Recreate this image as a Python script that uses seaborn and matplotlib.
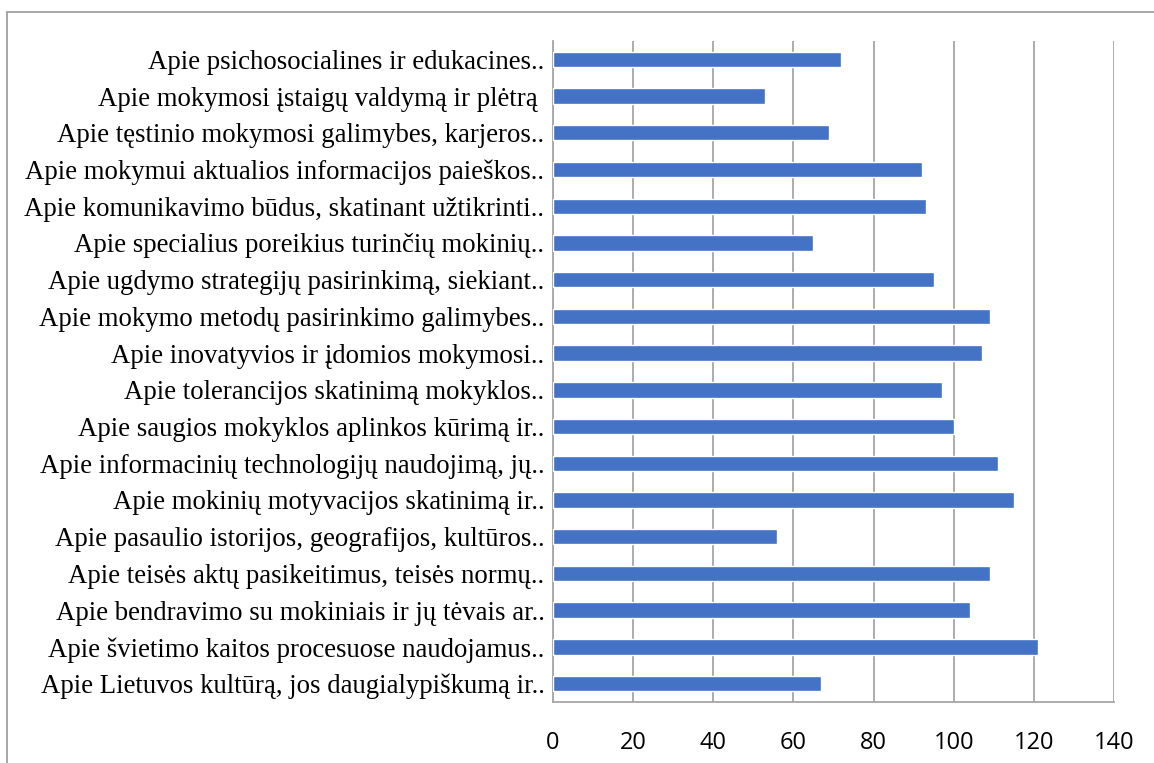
import matplotlib
matplotlib.use("Agg")
import matplotlib.pyplot as plt
import matplotlib.lines as mlines
import numpy as np
import pandas as pd
import seaborn as sns

topics = [
    "Apie psichosocialines ir edukacines..",
    "Apie mokymosi įstaigų valdymą ir plėtrą ",
    "Apie tęstinio mokymosi galimybes, karjeros..",
    "Apie mokymui aktualios informacijos paieškos..",
    "Apie komunikavimo būdus, skatinant užtikrinti..",
    "Apie specialius poreikius turinčių mokinių..",
    "Apie ugdymo strategijų pasirinkimą, siekiant..",
    "Apie mokymo metodų pasirinkimo galimybes..",
    "Apie inovatyvios ir įdomios mokymosi..",
    "Apie tolerancijos skatinimą mokyklos..",
    "Apie saugios mokyklos aplinkos kūrimą ir..",
    "Apie informacinių technologijų naudojimą, jų..",
    "Apie mokinių motyvacijos skatinimą ir..",
    "Apie pasaulio istorijos, geografijos, kultūros..",
    "Apie teisės aktų pasikeitimus, teisės normų..",
    "Apie bendravimo su mokiniais ir jų tėvais ar..",
    "Apie švietimo kaitos procesuose naudojamus..",
    "Apie Lietuvos kultūrą, jos daugialypiškumą ir..",
]
counts = [72, 53, 69, 92, 93, 65, 95, 109, 107, 97, 100, 111, 115, 56, 109, 104, 121, 67]

df = pd.DataFrame({"topic": topics, "count": counts})

sns.set_style("white")
fig = plt.figure(figsize=(11.54, 7.63), dpi=100)
ax = fig.add_axes([0.479, 0.08, 0.4865, 0.8663])

sns.barplot(data=df, x="count", y="topic", color="#4472C4", width=0.42,
            saturation=1, ax=ax, zorder=3)

ax.set_xlim(0, 140)
ax.set_xticks(np.arange(0, 141, 20))
ax.set_ylim(len(topics) - 0.5, -0.5)
ax.set_xlabel("")
ax.set_ylabel("")
ax.grid(axis="x", color="#A6A6A6", linewidth=1.3, zorder=0)
ax.grid(axis="y", visible=False)

for s in ["top", "right"]:
    ax.spines[s].set_visible(False)
for s in ["left", "bottom"]:
    ax.spines[s].set_color("#A6A6A6")
    ax.spines[s].set_linewidth(1.3)

# category separators on the y axis, Excel style
ax.set_yticks(np.arange(-0.5, len(topics), 1), minor=True)
ax.tick_params(axis="y", which="major", length=0, pad=6)
ax.tick_params(axis="y", which="minor", length=5, color="#A6A6A6", width=1.3, direction="out")
ax.tick_params(axis="x", which="major", length=8, color="#A6A6A6", width=1.3, direction="out", pad=13)

for lab in ax.get_yticklabels():
    lab.set_family("Liberation Serif")
    lab.set_fontsize(19.3)
    lab.set_color("black")
for lab in ax.get_xticklabels():
    lab.set_family("Open Sans")
    lab.set_fontsize(17)
    lab.set_color("black")

# outer chart border
w, h = 1154, 763
fig.add_artist(mlines.Line2D([7 / w, 1], [1 - 12 / h, 1 - 12 / h], color="#A0A0A0", lw=1.3,
                             transform=fig.transFigure))
fig.add_artist(mlines.Line2D([7 / w, 7 / w], [0, 1 - 12 / h], color="#A0A0A0", lw=1.3,
                             transform=fig.transFigure))

fig.savefig("out.png", dpi=100)
